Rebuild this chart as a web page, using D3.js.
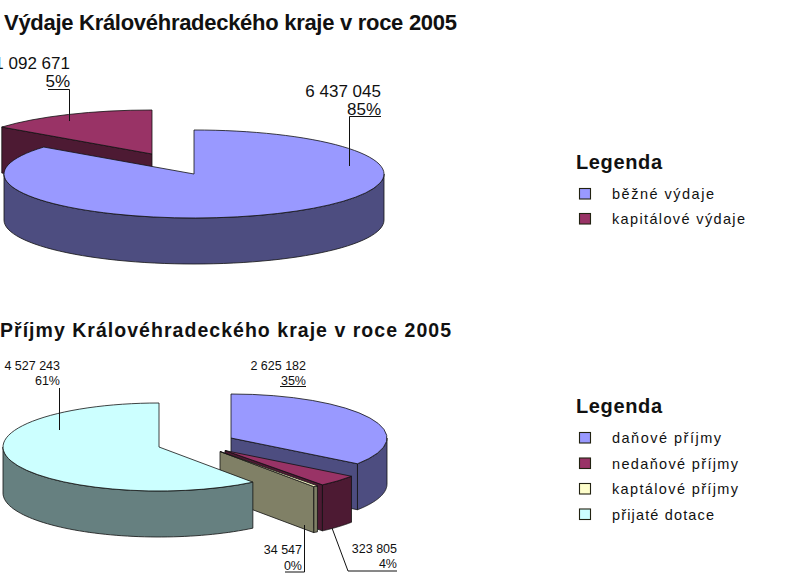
<!DOCTYPE html>
<html><head><meta charset="utf-8">
<script src="https://cdn.jsdelivr.net/npm/d3@7"></script>
<style>
html,body{margin:0;padding:0;background:#fff}
svg{display:block}
text{font-family:"Liberation Sans",Arial,sans-serif;fill:#111}
.face{stroke:#111;stroke-width:.8;stroke-linejoin:round;vector-effect:non-scaling-stroke}
.lead{stroke:#111;stroke-width:1;fill:none}
</style></head><body>
<svg id="c" width="807" height="577"></svg>
<script>
const title1 = "Výdaje Královéhradeckého kraje v roce  2005";
const title2 = "Příjmy Královéhradeckého kraje v roce  2005";
const legendTitle = "Legenda";

const categories1 = ["běžné výdaje", "kapitálové výdaje"];
const values1 = [6437045, 1092671];
const percents1 = ["85%", "5%"];
const colors1 = ["#9999ff", "#993366"];

const categories2 = ["daňové příjmy", "nedaňové příjmy", "kaptálové příjmy", "přijaté dotace"];
const values2 = [2625182, 323805, 34547, 4527243];
const percents2 = ["35%", "4%", "0%", "61%"];
const colors2 = ["#9999ff", "#993366", "#ffffcc", "#ccffff"];

const svg = d3.select("#c");
const fmt = d3.formatLocale({decimal: ",", thousands: " ", grouping: [3], currency: ["", ""]}).format(",d");
const pieGen = d3.pie().sort(null).startAngle(0).endAngle(2 * Math.PI);
const depthColor = c => { const k = d3.color(c); return d3.rgb(k.r / 2, k.g / 2, k.b / 2).formatHex(); };

function drawPie(values, colors, rx, ry, depth, centers, order) {
  const arcs = pieGen(values);
  const arc = d3.arc().innerRadius(0).outerRadius(rx);
  const line = d3.line();
  const root = svg.append("g");
  order.forEach(i => {
    const a = arcs[i], [cx, cy] = centers[i], col = colors[i], dark = depthColor(col);
    const pt = t => [cx + rx * Math.sin(t), cy - ry * Math.cos(t)];
    const cut = t => {
      const p = pt(t);
      root.append("path").attr("class", "face").attr("fill", dark)
        .attr("d", line([[cx, cy], p, [p[0], p[1] + depth], [cx, cy + depth]]) + "Z");
    };
    if (Math.sin(a.startAngle) < -1e-6) cut(a.startAngle);
    if (Math.sin(a.endAngle) > 1e-6) cut(a.endAngle);
    const lo = Math.max(a.startAngle, Math.PI / 2), hi = Math.min(a.endAngle, 3 * Math.PI / 2);
    if (hi > lo) {
      const ts = d3.range(0, 61).map(k => lo + (hi - lo) * k / 60);
      const top = ts.map(pt);
      const bottom = ts.map(pt).map(p => [p[0], p[1] + depth]).reverse();
      root.append("path").attr("class", "face").attr("fill", dark)
        .attr("d", line(top.concat(bottom)) + "Z");
    }
    root.append("path").attr("class", "face").attr("fill", col)
      .attr("transform", `translate(${cx},${cy}) scale(1,${ry / rx})`)
      .attr("d", arc(a));
  });
}

function label(x, y, txt, size, anchor) {
  svg.append("text").attr("x", x).attr("y", y).attr("text-anchor", anchor)
    .attr("font-size", size).text(txt);
}
function lead(points) {
  svg.append("path").attr("class", "lead").attr("d", d3.line()(points));
}
function title(x, y, txt, size, width) {
  svg.append("text").attr("x", x).attr("y", y).attr("font-size", size)
    .attr("font-weight", "bold").attr("textLength", width).attr("lengthAdjust", "spacing").text(txt);
}
function legend(x, y, cats, colors, step, firstY) {
  svg.append("text").attr("x", x).attr("y", y).attr("font-size", 20).attr("font-weight", "bold")
    .attr("textLength", 86).text(legendTitle);
  cats.forEach((c, i) => {
    const yy = firstY + i * step;
    svg.append("rect").attr("x", x + 3.5).attr("y", yy - 5.5).attr("width", 11).attr("height", 10.5)
      .attr("fill", colors[i]).attr("stroke", "#221").attr("stroke-width", 1.1);
    svg.append("text").attr("x", x + 36).attr("y", yy + 5).attr("font-size", 14.5)
      .attr("textLength", c.length * 0 + legendWidths[c]).text(c);
  });
}
const legendWidths = {
  "běžné výdaje": 102, "kapitálové výdaje": 133,
  "daňové příjmy": 109, "nedaňové příjmy": 126, "kaptálové příjmy": 126, "přijaté dotace": 102
};

// Top chart
title(4, 30, title1, 22, 453);
drawPie(values1, colors1, 190, 44, 46, [[194, 174], [152, 154]], [1, 0]);
label(70, 69, fmt(values1[1]), 17, "end");
label(70, 87, percents1[1], 17, "end");
lead([[48, 89.5], [69.5, 89.5], [69.5, 121]]);
label(381, 97, fmt(values1[0]), 17, "end");
label(381, 115, percents1[0], 17, "end");
lead([[381, 116.5], [349.5, 116.5], [349.5, 166]]);
legend(576, 169, categories1, colors1, 25, 194);

// Bottom chart
title(0, 337, title2, 19.5, 451);
drawPie(values2, colors2, 156, 44, 46, [[231, 438], [225, 450.5], [220, 451.5], [159, 447]], [0, 1, 2, 3]);
label(60, 370, fmt(values2[3]), 12.5, "end");
label(60, 385, percents2[3], 12.5, "end");
lead([[59.5, 388], [59.5, 430]]);
label(306, 370, fmt(values2[0]), 12.5, "end");
label(306, 385, percents2[0], 12.5, "end");
lead([[280, 386.5], [306, 386.5]]);
label(302, 554, fmt(values2[2]), 12.5, "end");
label(302, 570, percents2[2], 12.5, "end");
lead([[285, 572], [304.5, 572], [304.5, 525]]);
label(397, 553, fmt(values2[1]), 12.5, "end");
label(397, 568, percents2[1], 12.5, "end");
lead([[332, 528], [348, 571], [397, 571]]);
legend(576, 413, categories2, colors2, 25.5, 438);
</script>
</body></html>
